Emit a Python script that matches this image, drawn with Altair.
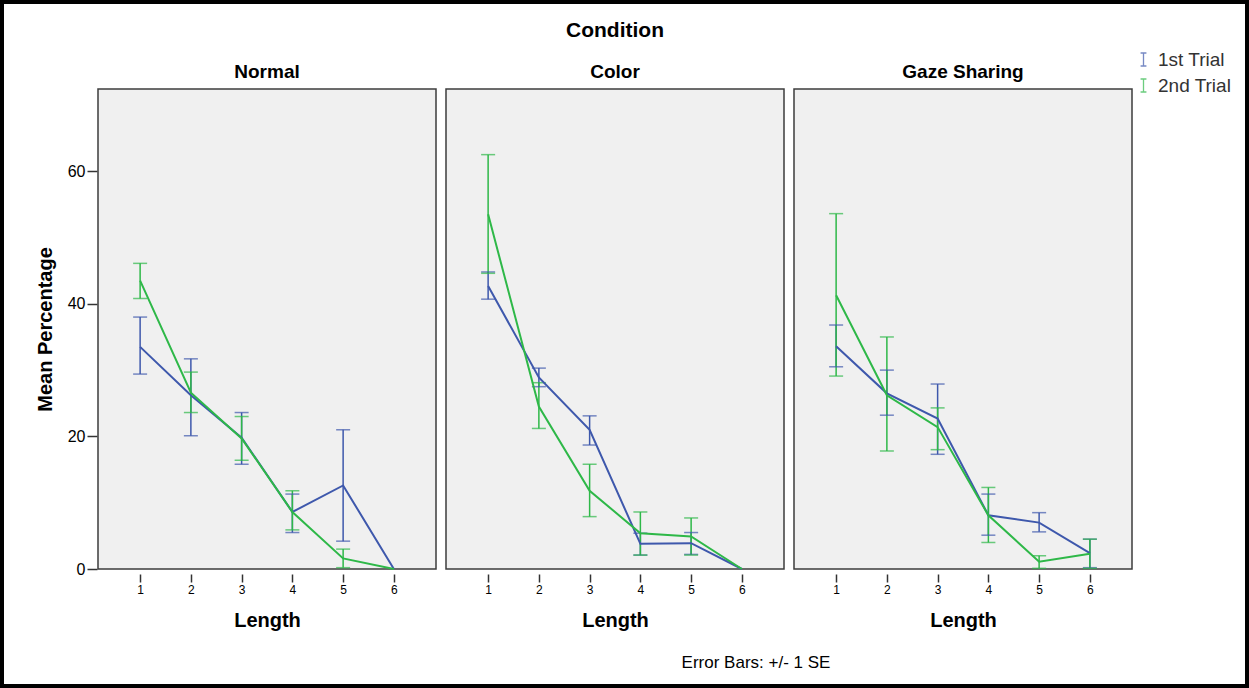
import altair as alt
import pandas as pd

FONT = "Liberation Sans"

lengths = [1, 2, 3, 4, 5, 6]
conditions = ["Normal", "Color", "Gaze Sharing"]
trials = ["1st Trial", "2nd Trial"]
trial_colors = ["#3E58AC", "#2EB848"]

# Mean percentage and the +/- 1 SE bounds, per condition and trial
normal_1st_mean = [33.5, 26.2, 19.8, 8.6, 12.6, 0.0]
normal_1st_lo = [29.4, 20.1, 15.8, 5.5, 4.2, 0.0]
normal_1st_hi = [38.0, 31.7, 23.6, 11.3, 21.0, 0.0]
normal_2nd_mean = [43.5, 26.6, 19.7, 8.6, 1.6, 0.0]
normal_2nd_lo = [40.8, 23.6, 16.4, 5.9, 0.2, 0.0]
normal_2nd_hi = [46.1, 29.7, 23.0, 11.8, 3.0, 0.0]

color_1st_mean = [42.7, 28.9, 21.0, 3.8, 3.9, 0.0]
color_1st_lo = [40.7, 27.5, 18.7, 2.1, 2.2, 0.0]
color_1st_hi = [44.8, 30.3, 23.1, 5.4, 5.5, 0.0]
color_2nd_mean = [53.5, 24.5, 11.8, 5.4, 4.9, 0.0]
color_2nd_lo = [44.6, 21.2, 7.9, 2.1, 2.1, 0.0]
color_2nd_hi = [62.5, 28.1, 15.8, 8.6, 7.7, 0.0]

gaze_1st_mean = [33.6, 26.5, 22.7, 8.1, 7.0, 2.4]
gaze_1st_lo = [30.5, 23.2, 17.3, 5.1, 5.6, 0.2]
gaze_1st_hi = [36.8, 30.0, 27.9, 11.3, 8.5, 4.5]
gaze_2nd_mean = [41.3, 26.2, 21.4, 8.1, 1.1, 2.3]
gaze_2nd_lo = [29.1, 17.8, 18.0, 4.0, 0.1, 0.1]
gaze_2nd_hi = [53.6, 35.0, 24.3, 12.3, 2.0, 4.5]

series = {
    ("Normal", "1st Trial"): (normal_1st_mean, normal_1st_lo, normal_1st_hi),
    ("Color", "1st Trial"): (color_1st_mean, color_1st_lo, color_1st_hi),
    ("Gaze Sharing", "1st Trial"): (gaze_1st_mean, gaze_1st_lo, gaze_1st_hi),
    ("Normal", "2nd Trial"): (normal_2nd_mean, normal_2nd_lo, normal_2nd_hi),
    ("Color", "2nd Trial"): (color_2nd_mean, color_2nd_lo, color_2nd_hi),
    ("Gaze Sharing", "2nd Trial"): (gaze_2nd_mean, gaze_2nd_lo, gaze_2nd_hi),
}

rows = []
for (cond, trial), (means, los, his) in series.items():
    for length, m, lo, hi in zip(lengths, means, los, his):
        rows.append({"condition": cond, "trial": trial, "length": length,
                     "mean": m, "lo": lo, "hi": hi})
df = pd.DataFrame(rows)

x_scale = alt.Scale(domain=[0.17, 6.83], nice=False, zero=False)
y_scale = alt.Scale(domain=[0, 72.4], nice=False)
x_axis = alt.Axis(values=lengths, format="d", title="Length", tickSize=8,
                  labelPadding=2, labelFontSize=12, titlePadding=15)
y_axis = alt.Axis(values=[0, 20, 40, 60], title="Mean Percentage", tickSize=10,
                  labelPadding=2, labelFontSize=16, titlePadding=12)

x = alt.X("length:Q", scale=x_scale, axis=x_axis)


def y_enc(field):
    return alt.Y(f"{field}:Q", scale=y_scale, axis=y_axis, title="Mean Percentage")


color = alt.Color(
    "trial:N",
    scale=alt.Scale(domain=trials, range=trial_colors),
    legend=alt.Legend(
        title=None, orient="none", legendX=1036, legendY=-39,
        symbolType="M-0.45,-1H0.45M0,-1V1M-0.45,1H0.45",
        symbolSize=169, symbolStrokeWidth=1.3, symbolFillColor="transparent",
        labelFontSize=19, labelColor="#333333", labelFont=FONT,
        labelOffset=5, rowPadding=6,
    ),
)

base = alt.Chart()
with_error = base.transform_filter("datum.hi > datum.lo")

error_rules = with_error.mark_rule(strokeWidth=1.5).encode(
    x=x, y=y_enc("lo"), y2="hi:Q", color=color)
caps_hi = with_error.mark_tick(orient="horizontal", size=14, thickness=1.5).encode(
    x=x, y=y_enc("hi"), color=color)
caps_lo = with_error.mark_tick(orient="horizontal", size=14, thickness=1.5).encode(
    x=x, y=y_enc("lo"), color=color)
mean_lines = base.mark_line(strokeWidth=2).encode(
    x=x, y=y_enc("mean"), color=color, order="length:Q")

panel = alt.layer(error_rules, caps_hi, caps_lo, mean_lines, data=df).properties(
    width=338, height=480)

chart = panel.facet(
    column=alt.Column(
        "condition:N", sort=conditions, title="Condition",
        header=alt.Header(labelFontSize=19, labelFontWeight="bold", labelColor="#000000",
                          labelFont=FONT, labelPadding=6,
                          titleFontSize=21, titleFontWeight="bold", titleColor="#000000",
                          titleFont=FONT, titlePadding=12),
    ),
    spacing=8,
).properties(
    title=alt.TitleParams("Error Bars: +/- 1 SE", orient="bottom", anchor="middle",
                          frame="group", dx=658, offset=25, fontSize=17,
                          fontWeight="normal", font=FONT, color="#000000"),
    padding={"left": 31, "top": 16, "right": 5, "bottom": 5},
    background="#FFFFFF",
).configure_view(
    fill="#F0F0F0", stroke="#3C3C3C", strokeWidth=1.5,
).configure_axis(
    labelFont=FONT, titleFont=FONT, labelColor="#000000", titleColor="#000000",
    titleFontSize=20, titleFontWeight="bold", domain=False, grid=False,
    tickColor="#333333", tickWidth=1.5,
)

chart.save(
    "out.html",
    embed_options={
        "renderer": "svg",
        "actions": False,
        "defaultStyle": "#vis.vega-embed{box-sizing:border-box;border:4px solid #000;height:688px;}",
    },
)
